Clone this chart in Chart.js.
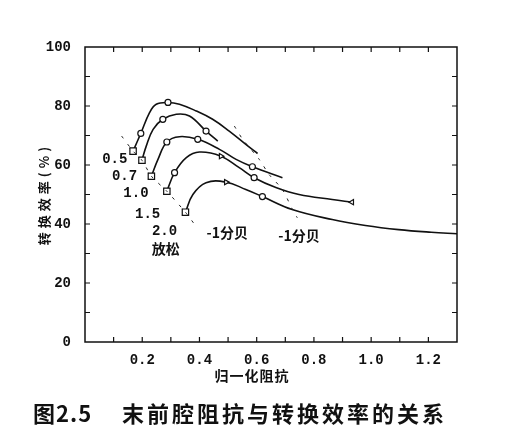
<!DOCTYPE html>
<html>
<head>
<meta charset="utf-8">
<script src="https://cdn.jsdelivr.net/npm/chart.js@4.4.0/dist/chart.umd.min.js"></script>
<style>
  html, body { margin: 0; padding: 0; background: #fff; }
  #marco { width: 505px; height: 441px; position: relative; }
</style>
</head>
<body>
<div id="marco"><canvas id="graficoEficiencia"></canvas></div>
<script>
// datos (x: impedancia normalizada, y: eficiencia %)
const curvas = ['0.5', '0.7', '1.0', '1.5', '2.0'];

const c05x = [0.168, 0.195, 0.226, 0.249, 0.29, 0.33, 0.389, 0.446, 0.504, 0.562, 0.603];
const c05y = [64.7, 70.7, 77.8, 80.6, 81.2, 80.6, 78.3, 75.5, 71.5, 67.0, 63.9];

const c07x = [0.199, 0.214, 0.238, 0.272, 0.319, 0.365, 0.423, 0.464];
const c07y = [61.6, 66.4, 72.1, 75.5, 77.2, 76.6, 71.5, 68.1];

const c10x = [0.232, 0.255, 0.286, 0.33, 0.394, 0.47, 0.528, 0.585, 0.69];
const c10y = [56.2, 61.9, 67.8, 69.6, 68.7, 65.3, 61.9, 59.4, 55.7];

const c15x = [0.286, 0.313, 0.354, 0.4, 0.475, 0.539, 0.591, 0.667, 0.748, 0.864, 0.933];
const c15y = [51.1, 57.4, 62.5, 64.4, 63.0, 59.1, 55.7, 52.4, 50.0, 48.3, 47.4];

const c20x = [0.351, 0.377, 0.423, 0.493, 0.562, 0.62, 0.724, 0.864, 0.98, 1.096, 1.21, 1.3];
const c20y = [44.0, 50.0, 54.0, 54.2, 51.7, 49.3, 44.9, 41.5, 39.5, 38.1, 37.2, 36.7];

// lugares de -1 dB
const menos1Ax = [0.128, 0.168, 0.199, 0.232, 0.286, 0.351, 0.388];
const menos1Ay = [69.8, 64.7, 61.6, 56.2, 51.1, 44.0, 39.2];
const menos1Bx = [0.522, 0.551, 0.609, 0.643, 0.69, 0.725, 0.742];
const menos1By = [73.2, 68.7, 61.9, 56.8, 51.7, 44.9, 42.1];

const ticksX = [0.2, 0.4, 0.6, 0.8, 1.0, 1.2];
const ticksY = [0, 20, 40, 60, 80, 100];

// marcadores por punto: s = cuadrado con aspa, o = círculo, t = triángulo
const marcas = [
  ['s', 'o', '', '', 'o', '', '', '', '', '', ''],
  ['s', '', '', 'o', '', '', 'o', ''],
  ['s', '', 'o', '', 'o', '', '', 'o', ''],
  ['s', 'o', '', '', 't', '', 'o', '', '', '', 'tl'],
  ['s', '', '', 't', '', 'o', '', '', '', '', '', '']
];

const fuenteNum = 'Liberation Mono';
const fuenteCJK = '"Noto Sans CJK SC"';

function puntos(xs, ys) {
  return xs.map((x, i) => ({ x: x, y: ys[i] }));
}

function curva(xs, ys, m) {
  return {
    data: puntos(xs, ys),
    borderColor: '#111',
    borderWidth: 1.6,
    tension: 0.4,
    fill: false,
    pointStyle: m.map(k => k === 's' ? 'rect' : (k[0] === 't' ? 'triangle' : 'circle')),
    pointRotation: m.map(k => k === 't' ? 90 : (k === 'tl' ? 270 : 0)),
    pointRadius: m.map(k => k === '' ? 0 : (k === 's' ? 4.5 : 3)),
    pointBackgroundColor: '#fff',
    pointBorderColor: '#111',
    pointBorderWidth: 1.2
  };
}

function discontinua(xs, ys) {
  return {
    data: puntos(xs, ys),
    borderColor: '#222',
    borderWidth: 1,
    borderDash: [3, 7],
    pointRadius: 0,
    tension: 0.2,
    fill: false
  };
}

const series = [
  [c05x, c05y], [c07x, c07y], [c10x, c10y], [c15x, c15y], [c20x, c20y]
];

const datasets = [
  discontinua(menos1Ax, menos1Ay),
  discontinua(menos1Bx, menos1By)
];
series.forEach((s, i) => datasets.push(curva(s[0], s[1], marcas[i])));
// aspa sobre el cuadrado de inicio
datasets.push({
  data: series.map(s => ({ x: s[0][0], y: s[1][0] })),
  showLine: false,
  pointStyle: 'crossRot',
  pointRadius: 4.5,
  pointBorderColor: '#111',
  pointBorderWidth: 1.2
});

// textos dentro del gráfico, en coordenadas de datos
const rotulos = [
  { t: curvas[0], x: 0.104, y: 62.0, f: fuenteNum },
  { t: curvas[1], x: 0.138, y: 56.0, f: fuenteNum },
  { t: curvas[2], x: 0.178, y: 50.5, f: fuenteNum },
  { t: curvas[3], x: 0.219, y: 43.1, f: fuenteNum },
  { t: curvas[4], x: 0.278, y: 37.3, f: fuenteNum },
  { t: '放松', x: 0.282, y: 31.5, f: fuenteCJK },
  { t: '-1分贝', x: 0.497, y: 37.0, f: fuenteCJK },
  { t: '-1分贝', x: 0.748, y: 36.0, f: fuenteCJK }
];

const marcoYTextos = {
  id: 'marcoYTextos',
  afterDraw(chart) {
    const { ctx, chartArea: a, scales } = chart;
    const sx = scales.x, sy = scales.y;
    ctx.save();
    ctx.strokeStyle = '#111';
    ctx.lineWidth = 1.5;
    ctx.strokeRect(a.left, a.top, a.right - a.left, a.bottom - a.top);

    // marcas de graduación hacia dentro
    ctx.lineWidth = 1.2;
    ctx.beginPath();
    for (let i = 1; i < 13; i++) {
      const px = sx.getPixelForValue(i / 10);
      ctx.moveTo(px, a.bottom); ctx.lineTo(px, a.bottom - 5);
      ctx.moveTo(px, a.top); ctx.lineTo(px, a.top + 5);
    }
    for (let i = 1; i < 10; i++) {
      const py = sy.getPixelForValue(i * 10);
      ctx.moveTo(a.left, py); ctx.lineTo(a.left + 5, py);
      ctx.moveTo(a.right, py); ctx.lineTo(a.right - 5, py);
    }
    ctx.stroke();

    ctx.fillStyle = '#111';
    ctx.textAlign = 'center';
    ctx.textBaseline = 'middle';
    rotulos.forEach(r => {
      ctx.font = 'bold 14px ' + r.f;
      ctx.fillText(r.t, sx.getPixelForValue(r.x), sy.getPixelForValue(r.y));
    });

    // título del eje x
    ctx.font = 'bold 14px ' + fuenteCJK;
    ctx.letterSpacing = '1px';
    ctx.fillText('归一化阻抗', 252, 376);

    // título del eje y
    ctx.save();
    ctx.translate(44, 194);
    ctx.rotate(-Math.PI / 2);
    ctx.letterSpacing = '4px';
    ctx.font = 'bold 13px ' + fuenteCJK;
    ctx.fillText('转换效率(%)', 0, 0);
    ctx.restore();

    // pie de figura
    ctx.textAlign = 'left';
    ctx.letterSpacing = '1px';
    ctx.font = 'bold 22px ' + fuenteCJK;
    ctx.fillText('图2.5', 33, 414);
    ctx.letterSpacing = '3px';
    ctx.fillText('末前腔阻抗与转换效率的关系', 122, 414);
    ctx.restore();
  }
};

new Chart(document.getElementById('graficoEficiencia'), {
  type: 'line',
  data: { datasets: datasets },
  options: {
    responsive: true,
    maintainAspectRatio: false,
    animation: false,
    layout: { padding: { left: 0, right: 48, top: 47, bottom: 0 } },
    plugins: {
      legend: { display: false },
      tooltip: { enabled: false }
    },
    scales: {
      x: {
        type: 'linear',
        min: 0,
        max: 1.3,
        grid: { display: false },
        border: { display: false },
        afterFit: s => { s.height = 99; },
        afterBuildTicks: s => { s.ticks = ticksX.map(v => ({ value: v })); },
        ticks: {
          autoSkip: false,
          maxRotation: 0,
          padding: 2,
          color: '#111',
          font: { family: fuenteNum, size: 14, weight: 'bold' },
          callback: v => v.toFixed(1)
        }
      },
      y: {
        min: 0,
        max: 100,
        grid: { display: false },
        border: { display: false },
        afterFit: s => { s.width = 85; },
        afterBuildTicks: s => { s.ticks = ticksY.map(v => ({ value: v })); },
        ticks: {
          padding: 6,
          color: '#111',
          font: { family: fuenteNum, size: 14, weight: 'bold' },
          callback: v => String(v)
        }
      }
    }
  },
  plugins: [marcoYTextos]
});
</script>
</body>
</html>
